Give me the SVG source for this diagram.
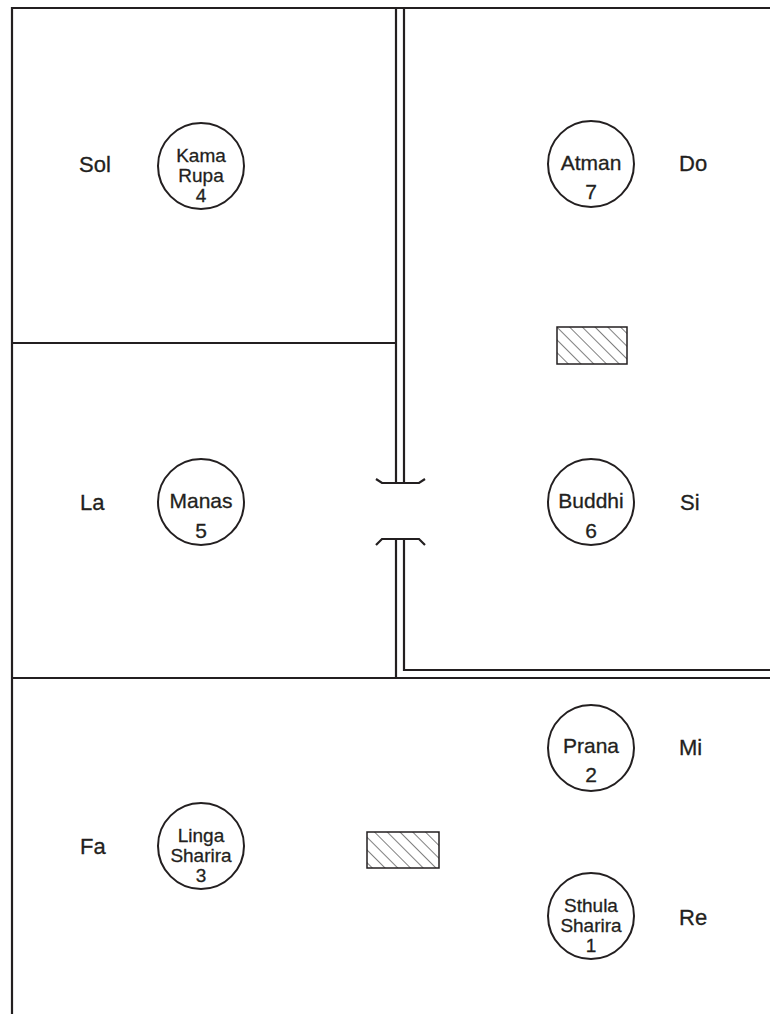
<svg xmlns="http://www.w3.org/2000/svg" width="770" height="1014" viewBox="0 0 770 1014">
<style>
.w{stroke:#231f20;stroke-width:2.2;fill:none}
.c{fill:#fff;stroke:#231f20;stroke-width:2}
.t{font-family:"Liberation Sans",Arial,sans-serif;font-size:21px;fill:#231f20;stroke:#231f20;stroke-width:0.3;text-anchor:middle}
.t3{font-size:19px}
.l{font-family:"Liberation Sans",Arial,sans-serif;font-size:22px;fill:#231f20;stroke:#231f20;stroke-width:0.3}
.h{fill:url(#hatch);stroke:#231f20;stroke-width:1.5}
</style>
<defs>
<pattern id="hatch" patternUnits="userSpaceOnUse" width="9" height="9" patternTransform="rotate(-45)">
<rect width="9" height="9" fill="#fff"/>
<line x1="0" y1="0" x2="0" y2="9" stroke="#555" stroke-width="1.5"/>
</pattern>
</defs>
<rect width="770" height="1014" fill="#fff"/>
<g id="walls">
<path class="w" d="M12,1014 V8 H770"/>
<path class="w" d="M12,343 H396"/>
<path class="w" d="M12,678 H770"/>
<path class="w" d="M396,8 V483 M404,8 V483"/>
<path class="w" d="M396,539 V678 M404,539 V670 H770"/>
<path class="w" d="M376,479 L382,483 H419 L425,479"/>
<path class="w" d="M376,545 L382,539 H419 L425,545"/>
</g>
<g id="hatch1"><rect class="h" x="557" y="327" width="70" height="37"/></g>
<g id="hatch2"><rect class="h" x="367" y="832" width="72" height="36"/></g>
<g id="n4"><circle class="c" cx="201" cy="166" r="43"/><text class="t t3" x="201" y="162">Kama</text><text class="t t3" x="201" y="182">Rupa</text><text class="t t3" x="201" y="202">4</text></g>
<g id="n7"><circle class="c" cx="591" cy="164" r="43"/><text class="t" x="591" y="170">Atman</text><text class="t" x="591" y="199">7</text></g>
<g id="n5"><circle class="c" cx="201" cy="502" r="43"/><text class="t" x="201" y="508">Manas</text><text class="t" x="201" y="538">5</text></g>
<g id="n6"><circle class="c" cx="591" cy="502" r="43"/><text class="t" x="591" y="508">Buddhi</text><text class="t" x="591" y="538">6</text></g>
<g id="n2"><circle class="c" cx="591" cy="748" r="43"/><text class="t" x="591" y="753">Prana</text><text class="t" x="591" y="782">2</text></g>
<g id="n3"><circle class="c" cx="201" cy="846" r="43"/><text class="t t3" x="201" y="842">Linga</text><text class="t t3" x="201" y="862">Sharira</text><text class="t t3" x="201" y="882">3</text></g>
<g id="n1"><circle class="c" cx="591" cy="916" r="43"/><text class="t t3" x="591" y="912">Sthula</text><text class="t t3" x="591" y="932">Sharira</text><text class="t t3" x="591" y="952">1</text></g>
<g id="labels">
<text class="l" x="79" y="172">Sol</text>
<text class="l" x="679" y="171">Do</text>
<text class="l" x="80" y="510">La</text>
<text class="l" x="680" y="510">Si</text>
<text class="l" x="679" y="755">Mi</text>
<text class="l" x="80" y="854">Fa</text>
<text class="l" x="679" y="925">Re</text>
</g>
</svg>
